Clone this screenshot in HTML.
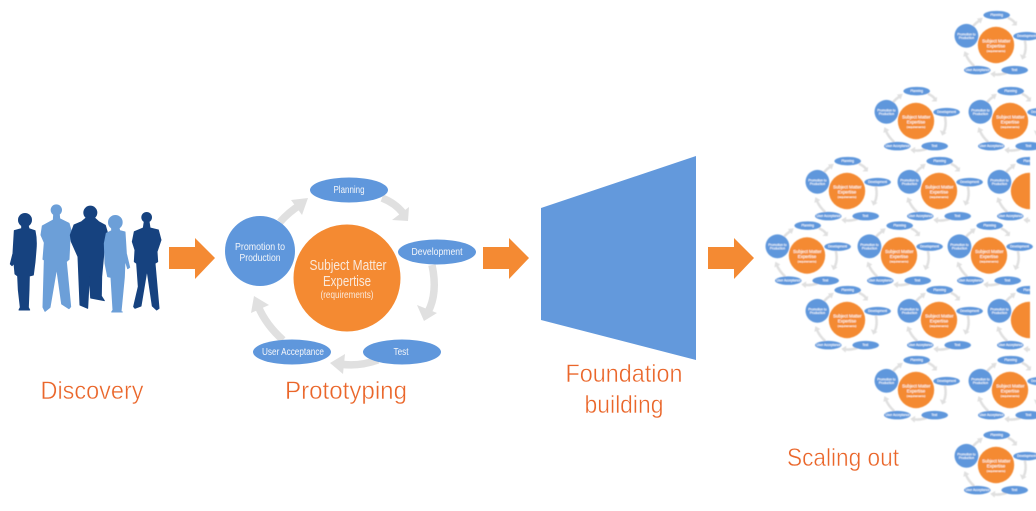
<!DOCTYPE html>
<html><head><meta charset="utf-8">
<style>
html,body{margin:0;padding:0;background:#fff;width:1036px;height:511px;overflow:hidden}
svg{display:block}
text{font-family:"Liberation Sans",sans-serif;text-anchor:middle}
.w{fill:#f4f6fa;font-size:10px}
.o{fill:#fae9da;font-size:15px}
.r{fill:#fae9da;font-size:10px}
.l{fill:#ea662a;font-size:25px;stroke:#fff;stroke-width:.45px}
.s text{fill:#fff;stroke:#fff;stroke-width:.25px}
.s .w{font-size:9.5px}
.s .o{font-size:13px}
.s .r{font-size:8.500px}
.p path{stroke-width:3px;stroke-linejoin:round}
</style></head><body>
<svg width="1036" height="511" viewBox="0 0 1036 511" xmlns="http://www.w3.org/2000/svg">
<defs>
<g id="c">
<g fill="none" stroke="#e0e0e0" stroke-width="7.500">
<path d="M382 198Q395 203 403 213"/>
<path d="M432 265Q438 293 428 312"/>
<path d="M378 360Q358 367 340 364"/>
<path d="M283 340Q266 325 258 306"/>
<path d="M280 222Q289 212 300 205"/>
</g>
<g fill="#e0e0e0">
<path d="M408 221L392 220L409 207Z"/>
<path d="M424 321L417 305L437 313Z"/>
<path d="M330 363L345 354L343 374Z"/>
<path d="M254 296L269 305L251 313Z"/>
<path d="M308 198L302 215L291 200Z"/>
</g>
<circle cx="347" cy="278" r="53.5" fill="#f48a33"/>
<circle cx="260" cy="251" r="35" fill="#5f97dc"/>
<ellipse cx="349" cy="190" rx="39" ry="12.5" fill="#5f97dc"/>
<ellipse cx="437" cy="252" rx="39" ry="12.5" fill="#5f97dc"/>
<ellipse cx="402" cy="352" rx="39" ry="12.5" fill="#5f97dc"/>
<ellipse cx="292" cy="352" rx="39" ry="12.5" fill="#5f97dc"/>
</g>
<filter id="b" x="-5%" y="-5%" width="110%" height="110%"><feGaussianBlur stdDeviation="0.5"/></filter>
<filter id="m" x="-5%" y="-5%" width="110%" height="110%"><feGaussianBlur stdDeviation="0.35"/></filter>
<clipPath id="k"><rect x="760" y="0" width="270" height="511"/></clipPath>
</defs>

<!-- people -->
<g filter="url(#m)" class="p">
<g transform="translate(5 200) scale(.3333)">
<circle cx="154" cy="30" r="17" fill="#6c9fd8"/>
<path fill="#6c9fd8" stroke="#6c9fd8" d="M146 44H163L164 56L192 70L198 90L195 115L192 178L184 185L197 320L192 326L170 312L155 205L135 322L120 334L114 322L118 180L114 178L118 128L108 105L112 78L145 60Z"/>
<ellipse cx="60" cy="60" rx="21" ry="21" fill="#15427f"/>
<path fill="#15427f" stroke="#15427f" d="M50 78H70L72 86L90 92Q96 120 93 150L90 186L85 225L73 228L72 270L70 322L74 330H42L46 322L40 270L38 228L30 222L27 190L21 197L16 192L24 160L28 92L50 86Z"/>
</g>
<g transform="translate(0 190) scale(.3333)">
<circle cx="271" cy="68" r="21" fill="#15427f"/>
<path fill="#15427f" stroke="#15427f" d="M258 84H284L296 95L316 106L323 130L312 185L305 260L304 318L313 332L272 324L268 260L263 355L240 345L234 200L214 155L211 135L222 105L245 95Z"/>
</g>
<g transform="translate(85 200) scale(.3333)">
<circle cx="91" cy="67" r="22" fill="#6c9fd8"/>
<path fill="#6c9fd8" stroke="#6c9fd8" d="M80 84H102L104 92L120 96L124 160L134 202L128 206L120 180L118 232L108 335L112 336H80L84 330L78 232L68 230L60 190L58 130L64 100L80 92Z"/>
<circle cx="185" cy="52" r="16" fill="#15427f"/>
<path fill="#15427f" stroke="#15427f" d="M178 64H192L195 84L220 90L228 120L216 155L218 185L210 190L222 325L215 330L202 318L186 210L168 318L150 325L146 320L160 260L155 190L148 185L150 150L142 125L148 95L175 84Z"/>
</g>
</g>

<!-- orange arrows -->
<g fill="#f48a33">
<path d="M169 247H195V238L215 258L195 279V269H169Z"/>
<path d="M483 247H509V238L529 258L509 279V269H483Z"/>
<path d="M708 247H734V238L754 258L734 279V269H708Z"/>
</g>

<!-- trapezoid -->
<path d="M541 208L696 156V360L541 320Z" fill="#6399dc"/>

<!-- main cycle -->
<g filter="url(#m)">
<use href="#c"/>
<text class="w" x="349" y="193" textLength="31" lengthAdjust="spacingAndGlyphs">Planning</text>
<text class="w" x="437" y="255" textLength="51" lengthAdjust="spacingAndGlyphs">Development</text>
<text class="w" x="401" y="355" textLength="15" lengthAdjust="spacingAndGlyphs">Test</text>
<text class="w" x="293" y="355" textLength="62" lengthAdjust="spacingAndGlyphs">User Acceptance</text>
<text class="w" x="260" y="250" textLength="50" lengthAdjust="spacingAndGlyphs">Promotion to</text>
<text class="w" x="260" y="261" textLength="41" lengthAdjust="spacingAndGlyphs">Production</text>
<text class="o" x="348" y="270" textLength="77" lengthAdjust="spacingAndGlyphs">Subject Matter</text>
<text class="o" x="347" y="286" textLength="48" lengthAdjust="spacingAndGlyphs">Expertise</text>
<text class="r" x="347" y="298" textLength="53" lengthAdjust="spacingAndGlyphs">(requirements)</text>
</g>

<!-- labels -->
<text class="l" x="92" y="399" textLength="103" lengthAdjust="spacingAndGlyphs">Discovery</text>
<text class="l" x="346" y="399" textLength="122" lengthAdjust="spacingAndGlyphs">Prototyping</text>
<text class="l" x="624" y="382" textLength="117" lengthAdjust="spacingAndGlyphs">Foundation</text>
<text class="l" x="624" y="413" textLength="79" lengthAdjust="spacingAndGlyphs">building</text>
<text class="l" x="843" y="466" textLength="112" lengthAdjust="spacingAndGlyphs">Scaling out</text>

<!-- small cycles -->
<g filter="url(#b)" class="s">
<g transform="translate(996 45) scale(.34) translate(-347 -278)"><use href="#c"/><text class="w" x="349" y="193">Planning</text><text class="w" x="437" y="255">Development</text><text class="w" x="401" y="355">Test</text><text class="w" x="293" y="355">User Acceptance</text><text class="w" x="260" y="250">Promotion to</text><text class="w" x="260" y="261">Production</text><text class="o" x="348" y="270">Subject Matter</text><text class="o" x="347" y="286">Expertise</text><text class="r" x="347" y="298">(requirements)</text></g>
<g transform="translate(916 121) scale(.34) translate(-347 -278)"><use href="#c"/><text class="w" x="349" y="193">Planning</text><text class="w" x="437" y="255">Development</text><text class="w" x="401" y="355">Test</text><text class="w" x="293" y="355">User Acceptance</text><text class="w" x="260" y="250">Promotion to</text><text class="w" x="260" y="261">Production</text><text class="o" x="348" y="270">Subject Matter</text><text class="o" x="347" y="286">Expertise</text><text class="r" x="347" y="298">(requirements)</text></g>
<g transform="translate(1010 121) scale(.34) translate(-347 -278)"><use href="#c"/><text class="w" x="349" y="193">Planning</text><text class="w" x="437" y="255">Development</text><text class="w" x="401" y="355">Test</text><text class="w" x="293" y="355">User Acceptance</text><text class="w" x="260" y="250">Promotion to</text><text class="w" x="260" y="261">Production</text><text class="o" x="348" y="270">Subject Matter</text><text class="o" x="347" y="286">Expertise</text><text class="r" x="347" y="298">(requirements)</text></g>
<g transform="translate(847 191) scale(.34) translate(-347 -278)"><use href="#c"/><text class="w" x="349" y="193">Planning</text><text class="w" x="437" y="255">Development</text><text class="w" x="401" y="355">Test</text><text class="w" x="293" y="355">User Acceptance</text><text class="w" x="260" y="250">Promotion to</text><text class="w" x="260" y="261">Production</text><text class="o" x="348" y="270">Subject Matter</text><text class="o" x="347" y="286">Expertise</text><text class="r" x="347" y="298">(requirements)</text></g>
<g transform="translate(939 191) scale(.34) translate(-347 -278)"><use href="#c"/><text class="w" x="349" y="193">Planning</text><text class="w" x="437" y="255">Development</text><text class="w" x="401" y="355">Test</text><text class="w" x="293" y="355">User Acceptance</text><text class="w" x="260" y="250">Promotion to</text><text class="w" x="260" y="261">Production</text><text class="o" x="348" y="270">Subject Matter</text><text class="o" x="347" y="286">Expertise</text><text class="r" x="347" y="298">(requirements)</text></g>
<g clip-path="url(#k)"><g transform="translate(1029 191) scale(.34) translate(-347 -278)"><use href="#c"/><text class="w" x="349" y="193">Planning</text><text class="w" x="401" y="355">Test</text><text class="w" x="293" y="355">User Acceptance</text><text class="w" x="260" y="250">Promotion to</text><text class="w" x="260" y="261">Production</text></g></g>
<g transform="translate(807 255.500) scale(.34) translate(-347 -278)"><use href="#c"/><text class="w" x="349" y="193">Planning</text><text class="w" x="437" y="255">Development</text><text class="w" x="401" y="355">Test</text><text class="w" x="293" y="355">User Acceptance</text><text class="w" x="260" y="250">Promotion to</text><text class="w" x="260" y="261">Production</text><text class="o" x="348" y="270">Subject Matter</text><text class="o" x="347" y="286">Expertise</text><text class="r" x="347" y="298">(requirements)</text></g>
<g transform="translate(899 255.500) scale(.34) translate(-347 -278)"><use href="#c"/><text class="w" x="349" y="193">Planning</text><text class="w" x="437" y="255">Development</text><text class="w" x="401" y="355">Test</text><text class="w" x="293" y="355">User Acceptance</text><text class="w" x="260" y="250">Promotion to</text><text class="w" x="260" y="261">Production</text><text class="o" x="348" y="270">Subject Matter</text><text class="o" x="347" y="286">Expertise</text><text class="r" x="347" y="298">(requirements)</text></g>
<g transform="translate(989 255.500) scale(.34) translate(-347 -278)"><use href="#c"/><text class="w" x="349" y="193">Planning</text><text class="w" x="437" y="255">Development</text><text class="w" x="401" y="355">Test</text><text class="w" x="293" y="355">User Acceptance</text><text class="w" x="260" y="250">Promotion to</text><text class="w" x="260" y="261">Production</text><text class="o" x="348" y="270">Subject Matter</text><text class="o" x="347" y="286">Expertise</text><text class="r" x="347" y="298">(requirements)</text></g>
<g transform="translate(847 320) scale(.34) translate(-347 -278)"><use href="#c"/><text class="w" x="349" y="193">Planning</text><text class="w" x="437" y="255">Development</text><text class="w" x="401" y="355">Test</text><text class="w" x="293" y="355">User Acceptance</text><text class="w" x="260" y="250">Promotion to</text><text class="w" x="260" y="261">Production</text><text class="o" x="348" y="270">Subject Matter</text><text class="o" x="347" y="286">Expertise</text><text class="r" x="347" y="298">(requirements)</text></g>
<g transform="translate(939 320) scale(.34) translate(-347 -278)"><use href="#c"/><text class="w" x="349" y="193">Planning</text><text class="w" x="437" y="255">Development</text><text class="w" x="401" y="355">Test</text><text class="w" x="293" y="355">User Acceptance</text><text class="w" x="260" y="250">Promotion to</text><text class="w" x="260" y="261">Production</text><text class="o" x="348" y="270">Subject Matter</text><text class="o" x="347" y="286">Expertise</text><text class="r" x="347" y="298">(requirements)</text></g>
<g clip-path="url(#k)"><g transform="translate(1029 320) scale(.34) translate(-347 -278)"><use href="#c"/><text class="w" x="349" y="193">Planning</text><text class="w" x="401" y="355">Test</text><text class="w" x="293" y="355">User Acceptance</text><text class="w" x="260" y="250">Promotion to</text><text class="w" x="260" y="261">Production</text></g></g>
<g transform="translate(916 390) scale(.34) translate(-347 -278)"><use href="#c"/><text class="w" x="349" y="193">Planning</text><text class="w" x="437" y="255">Development</text><text class="w" x="401" y="355">Test</text><text class="w" x="293" y="355">User Acceptance</text><text class="w" x="260" y="250">Promotion to</text><text class="w" x="260" y="261">Production</text><text class="o" x="348" y="270">Subject Matter</text><text class="o" x="347" y="286">Expertise</text><text class="r" x="347" y="298">(requirements)</text></g>
<g transform="translate(1010 390) scale(.34) translate(-347 -278)"><use href="#c"/><text class="w" x="349" y="193">Planning</text><text class="w" x="437" y="255">Development</text><text class="w" x="401" y="355">Test</text><text class="w" x="293" y="355">User Acceptance</text><text class="w" x="260" y="250">Promotion to</text><text class="w" x="260" y="261">Production</text><text class="o" x="348" y="270">Subject Matter</text><text class="o" x="347" y="286">Expertise</text><text class="r" x="347" y="298">(requirements)</text></g>
<g transform="translate(996 465) scale(.34) translate(-347 -278)"><use href="#c"/><text class="w" x="349" y="193">Planning</text><text class="w" x="437" y="255">Development</text><text class="w" x="401" y="355">Test</text><text class="w" x="293" y="355">User Acceptance</text><text class="w" x="260" y="250">Promotion to</text><text class="w" x="260" y="261">Production</text><text class="o" x="348" y="270">Subject Matter</text><text class="o" x="347" y="286">Expertise</text><text class="r" x="347" y="298">(requirements)</text></g>
</g>
</svg>
</body></html>
